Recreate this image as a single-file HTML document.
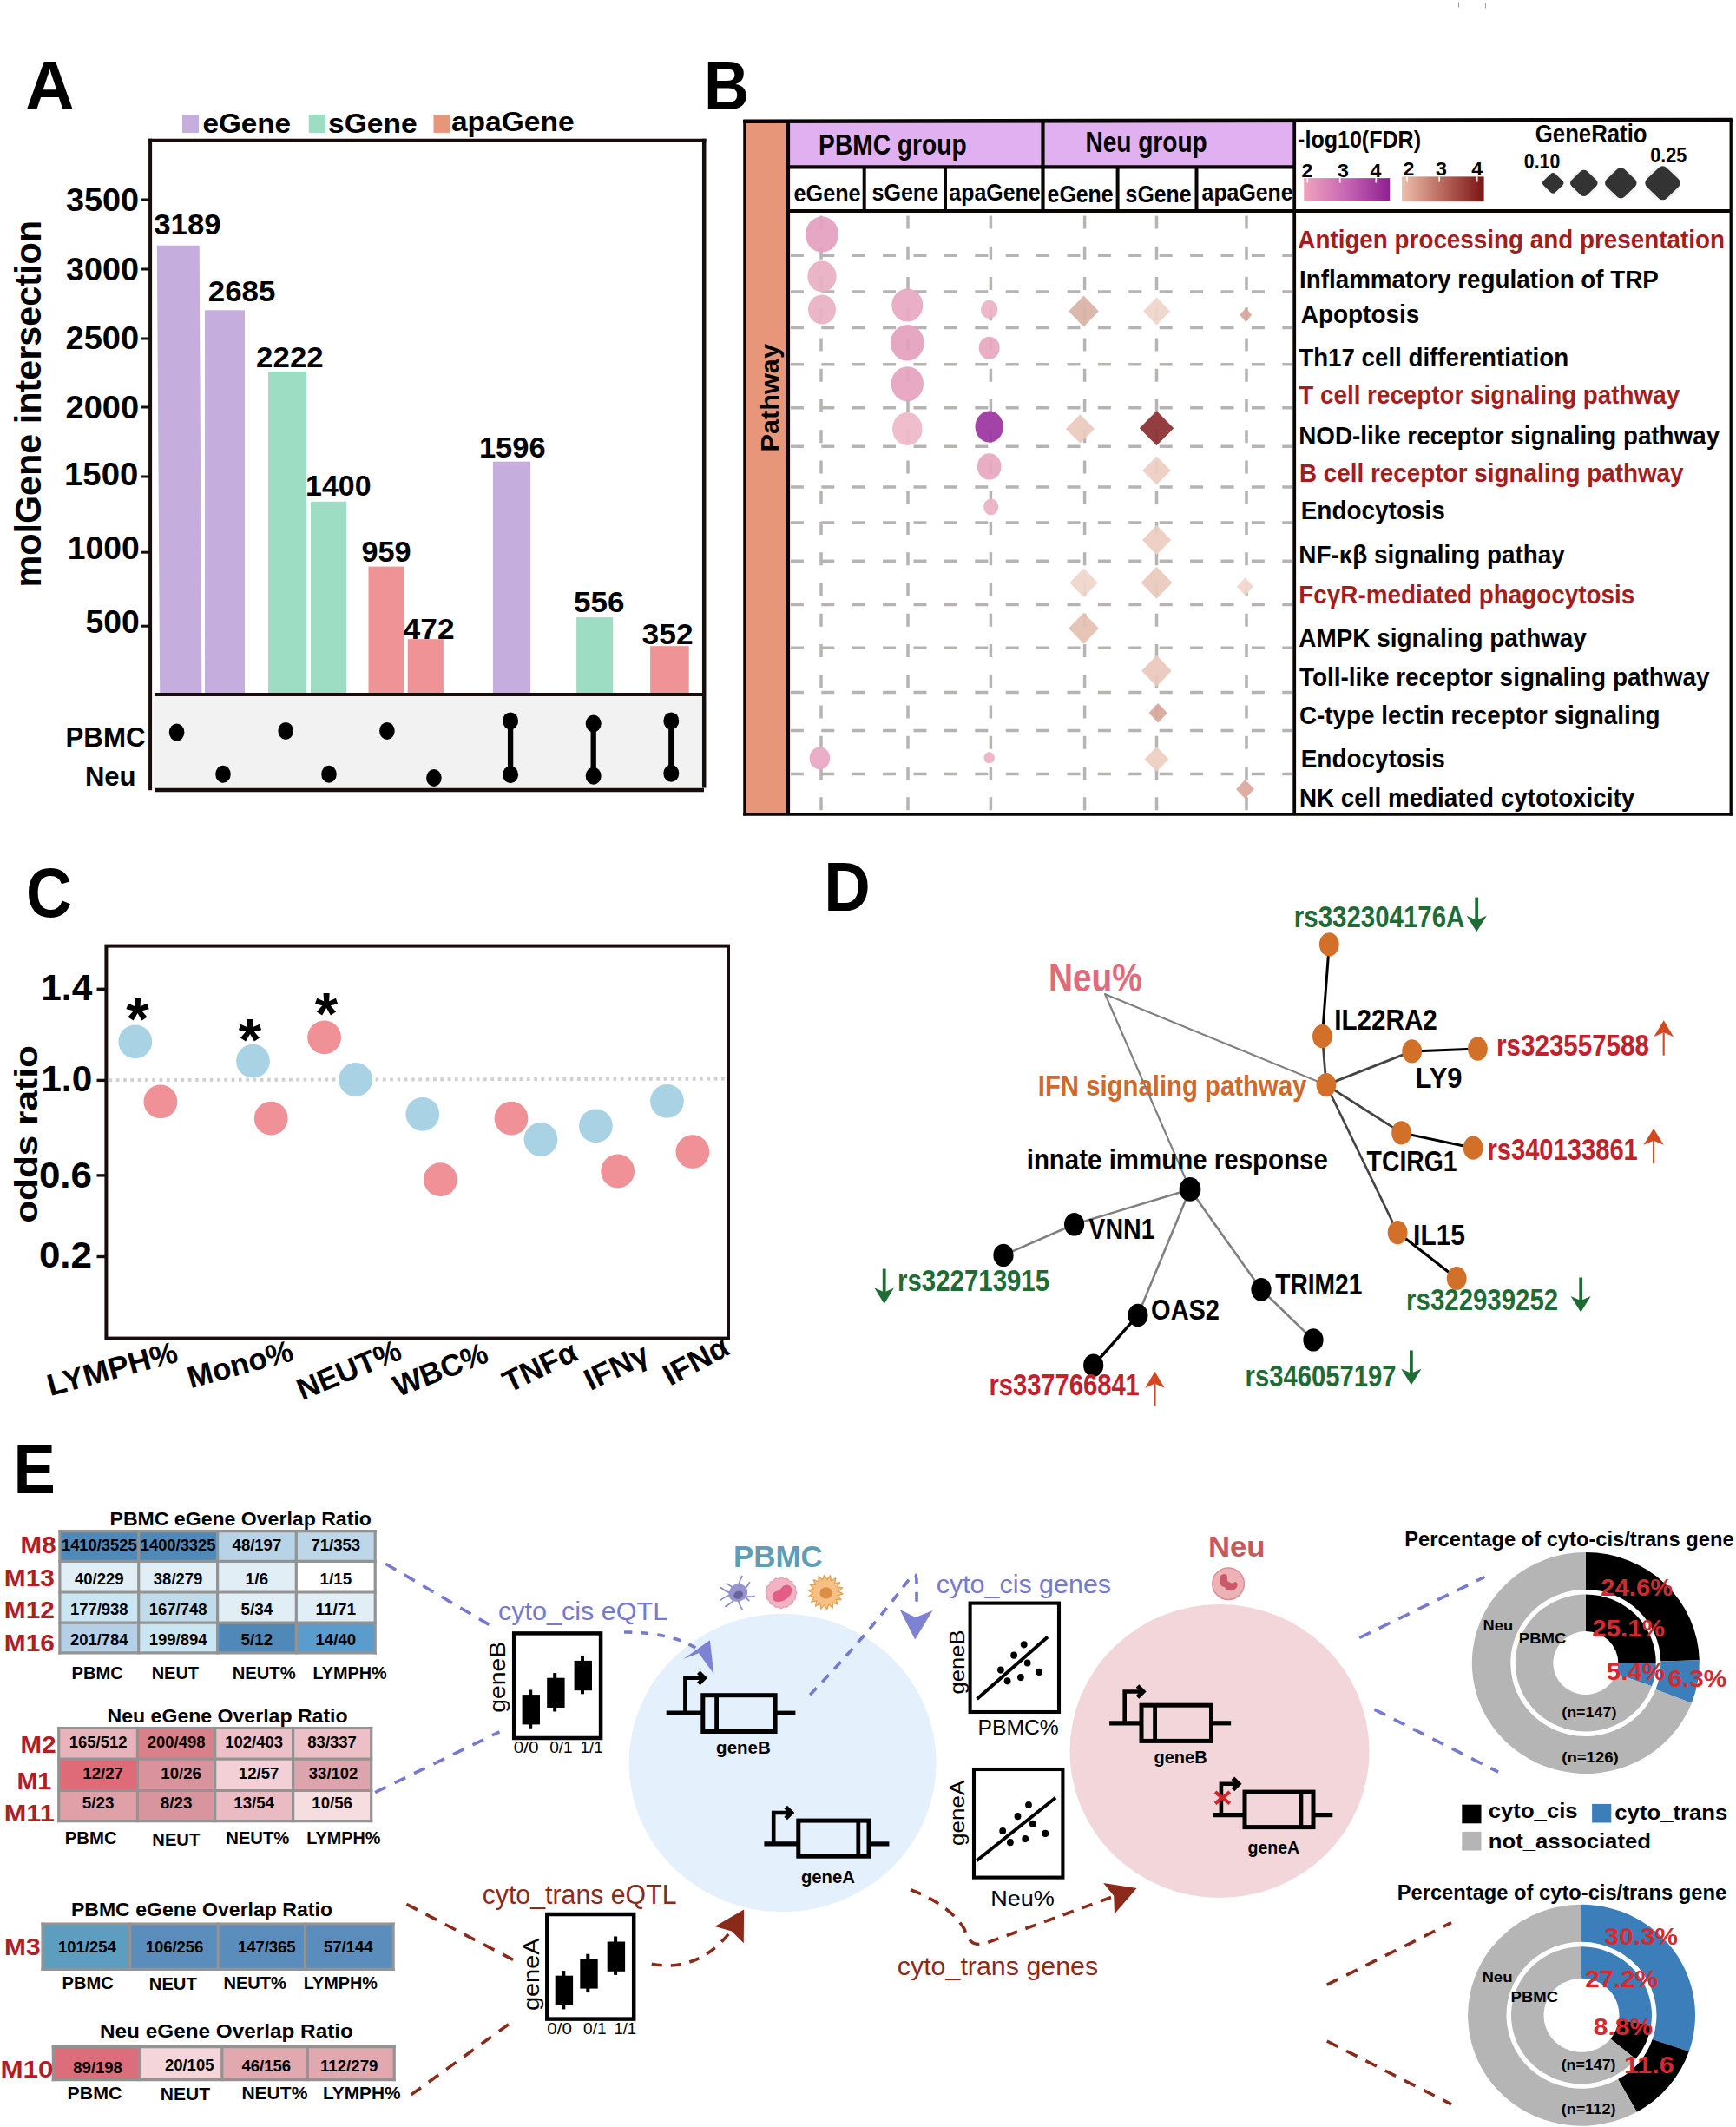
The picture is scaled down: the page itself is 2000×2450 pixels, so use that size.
<!DOCTYPE html>
<html lang="en"><head><meta charset="utf-8"><title>Figure</title>
<style>
html,body{margin:0;padding:0;background:#fff;}
svg{display:block;font-family:'Liberation Sans', 'DejaVu Sans', sans-serif;}
</style></head><body>
<svg width="2000" height="2450" viewBox="0 0 2000 2450">
<rect width="2000" height="2450" fill="#fff"/>
<g id="panelA">
<text x="29.0" y="125.5" font-size="79.5" font-weight="bold" textLength="56.8" lengthAdjust="spacingAndGlyphs">A</text>
<rect x="210.0" y="132.0" width="19.0" height="21.0" fill="#C5ADDE" />
<text x="233.4" y="153.0" font-size="32" font-weight="bold" textLength="101.7" lengthAdjust="spacingAndGlyphs">eGene</text>
<rect x="355.7" y="132.0" width="19.3" height="21.0" fill="#9DDDC3" />
<text x="378.0" y="153.0" font-size="32" font-weight="bold" textLength="102.7" lengthAdjust="spacingAndGlyphs">sGene</text>
<rect x="499.5" y="132.4" width="19.0" height="20.5" fill="#E8967A" />
<text x="519.9" y="151.3" font-size="32" font-weight="bold" textLength="141.7" lengthAdjust="spacingAndGlyphs">apaGene</text>
<rect x="176.7" y="801.0" width="634.0" height="108.0" fill="#F2F2F2" />
<path d="M180.8 282.7H229.7L232.4 799H184.2Z" fill="#C5ADDE"/>
<rect x="236.0" y="357.3" width="46.0" height="441.7" fill="#C5ADDE" />
<rect x="309.0" y="428.0" width="44.0" height="371.0" fill="#9DDDC3" />
<rect x="358.0" y="577.8" width="41.0" height="221.2" fill="#9DDDC3" />
<rect x="424.5" y="652.6" width="40.9" height="146.4" fill="#EF9397" />
<rect x="469.7" y="736.2" width="41.2" height="62.8" fill="#EF9397" />
<rect x="567.9" y="531.7" width="43.2" height="267.3" fill="#C5ADDE" />
<rect x="664.1" y="711.1" width="42.1" height="87.9" fill="#9DDDC3" />
<rect x="749.1" y="744.2" width="44.6" height="54.8" fill="#EF9397" />
<line x1="173.1" y1="159.7" x2="173.1" y2="910.2" stroke="#170d0d" stroke-width="4" />
<line x1="171.1" y1="161.9" x2="813.5" y2="161.9" stroke="#170d0d" stroke-width="4.3" />
<line x1="811.2" y1="159.7" x2="811.2" y2="907.5" stroke="#170d0d" stroke-width="4.5" />
<line x1="178.2" y1="800.0" x2="811.0" y2="800.0" stroke="#170d0d" stroke-width="4.2" />
<line x1="178.2" y1="910.0" x2="811.0" y2="910.0" stroke="#170d0d" stroke-width="4.6" />
<line x1="162.5" y1="230.0" x2="172.0" y2="230.0" stroke="#170d0d" stroke-width="3" />
<line x1="162.5" y1="310.0" x2="172.0" y2="310.0" stroke="#170d0d" stroke-width="3" />
<line x1="162.5" y1="390.0" x2="172.0" y2="390.0" stroke="#170d0d" stroke-width="3" />
<line x1="162.5" y1="469.0" x2="172.0" y2="469.0" stroke="#170d0d" stroke-width="3" />
<line x1="162.5" y1="549.0" x2="172.0" y2="549.0" stroke="#170d0d" stroke-width="3" />
<line x1="162.5" y1="636.2" x2="172.0" y2="636.2" stroke="#170d0d" stroke-width="3" />
<line x1="162.5" y1="721.2" x2="172.0" y2="721.2" stroke="#170d0d" stroke-width="3" />
<text x="76.0" y="242.7" font-size="36.5" font-weight="bold" textLength="84.1" lengthAdjust="spacingAndGlyphs">3500</text>
<text x="76.0" y="322.5" font-size="36.5" font-weight="bold" textLength="84.1" lengthAdjust="spacingAndGlyphs">3000</text>
<text x="75.5" y="402.3" font-size="36.5" font-weight="bold" textLength="84.6" lengthAdjust="spacingAndGlyphs">2500</text>
<text x="75.5" y="481.5" font-size="36.5" font-weight="bold" textLength="84.6" lengthAdjust="spacingAndGlyphs">2000</text>
<text x="74.0" y="559.3" font-size="36.5" font-weight="bold" textLength="85.3" lengthAdjust="spacingAndGlyphs">1500</text>
<text x="77.7" y="644.3" font-size="36.5" font-weight="bold" textLength="83.0" lengthAdjust="spacingAndGlyphs">1000</text>
<text x="98.5" y="729.3" font-size="36.5" font-weight="bold" textLength="62.2" lengthAdjust="spacingAndGlyphs">500</text>
<text x="177.3" y="270.3" font-size="33" font-weight="bold" textLength="77.3" lengthAdjust="spacingAndGlyphs">3189</text>
<text x="239.8" y="346.7" font-size="33" font-weight="bold" textLength="77.6" lengthAdjust="spacingAndGlyphs">2685</text>
<text x="295.1" y="423.0" font-size="33" font-weight="bold" textLength="77.6" lengthAdjust="spacingAndGlyphs">2222</text>
<text x="352.1" y="571.4" font-size="33" font-weight="bold" textLength="75.4" lengthAdjust="spacingAndGlyphs">1400</text>
<text x="416.4" y="646.9" font-size="33" font-weight="bold" textLength="57.2" lengthAdjust="spacingAndGlyphs">959</text>
<text x="464.6" y="736.2" font-size="33" font-weight="bold" textLength="59.0" lengthAdjust="spacingAndGlyphs">472</text>
<text x="551.9" y="527.0" font-size="33" font-weight="bold" textLength="76.8" lengthAdjust="spacingAndGlyphs">1596</text>
<text x="661.1" y="705.0" font-size="33" font-weight="bold" textLength="58.4" lengthAdjust="spacingAndGlyphs">556</text>
<text x="739.6" y="742.0" font-size="33" font-weight="bold" textLength="59.0" lengthAdjust="spacingAndGlyphs">352</text>
<text x="47.5" y="676.6" font-size="43" font-weight="bold" textLength="422.7" lengthAdjust="spacingAndGlyphs" transform="rotate(-90 47.5 676.6)">molGene intersection</text>
<text x="75.5" y="860.0" font-size="31" font-weight="bold" textLength="92.1" lengthAdjust="spacingAndGlyphs">PBMC</text>
<text x="97.9" y="904.7" font-size="31" font-weight="bold" textLength="58.7" lengthAdjust="spacingAndGlyphs">Neu</text>
<ellipse cx="203.6" cy="843.6" rx="8.8" ry="10.0" fill="#000" />
<ellipse cx="257.0" cy="891.7" rx="8.8" ry="10.0" fill="#000" />
<ellipse cx="329.2" cy="841.9" rx="8.8" ry="10.0" fill="#000" />
<ellipse cx="379.0" cy="891.7" rx="8.8" ry="10.0" fill="#000" />
<ellipse cx="445.9" cy="841.9" rx="8.8" ry="10.0" fill="#000" />
<ellipse cx="499.9" cy="896.0" rx="8.8" ry="10.0" fill="#000" />
<line x1="588.1" y1="830.4" x2="588.1" y2="892.3" stroke="#000" stroke-width="6.3" />
<ellipse cx="588.1" cy="830.4" rx="9.0" ry="10.0" fill="#000" />
<ellipse cx="588.1" cy="892.3" rx="9.0" ry="10.0" fill="#000" />
<line x1="683.7" y1="833.5" x2="683.7" y2="893.7" stroke="#000" stroke-width="6.3" />
<ellipse cx="683.7" cy="833.5" rx="9.0" ry="10.0" fill="#000" />
<ellipse cx="683.7" cy="893.7" rx="9.0" ry="10.0" fill="#000" />
<line x1="773.3" y1="830.4" x2="773.3" y2="890.8" stroke="#000" stroke-width="6.3" />
<ellipse cx="773.3" cy="830.4" rx="9.0" ry="10.0" fill="#000" />
<ellipse cx="773.3" cy="890.8" rx="9.0" ry="10.0" fill="#000" />
</g>
<g id="panelB">
<text x="811.0" y="126.2" font-size="79.5" font-weight="bold" textLength="51.9" lengthAdjust="spacingAndGlyphs">B</text>
<defs>
<linearGradient id="gp" x1="0" x2="1" y1="0" y2="0"><stop offset="0" stop-color="#EFA3BC"/><stop offset="0.5" stop-color="#C765B4"/><stop offset="1" stop-color="#8E2091"/></linearGradient>
<linearGradient id="gr" x1="0" x2="1" y1="0" y2="0"><stop offset="0" stop-color="#EDBFAC"/><stop offset="0.5" stop-color="#B8675C"/><stop offset="1" stop-color="#7A1414"/></linearGradient>
</defs>
<rect x="858.5" y="140.0" width="48.0" height="798.0" fill="#E8967A" />
<rect x="909.0" y="140.0" width="581.0" height="51.0" fill="#E1B0F0" />
<line x1="946.0" y1="248.6" x2="946.0" y2="937.0" stroke="#B7B3B3" stroke-width="3.5" stroke-dasharray="15 20.25"/>
<line x1="1046.0" y1="248.6" x2="1046.0" y2="937.0" stroke="#B7B3B3" stroke-width="3.5" stroke-dasharray="15 20.25"/>
<line x1="1141.4" y1="248.6" x2="1141.4" y2="937.0" stroke="#B7B3B3" stroke-width="3.5" stroke-dasharray="15 20.25"/>
<line x1="1249.6" y1="248.6" x2="1249.6" y2="937.0" stroke="#B7B3B3" stroke-width="3.5" stroke-dasharray="15 20.25"/>
<line x1="1332.5" y1="248.6" x2="1332.5" y2="937.0" stroke="#B7B3B3" stroke-width="3.5" stroke-dasharray="15 20.25"/>
<line x1="1436.0" y1="248.6" x2="1436.0" y2="937.0" stroke="#B7B3B3" stroke-width="3.5" stroke-dasharray="15 20.25"/>
<line x1="910.9" y1="294.2" x2="1489.0" y2="294.2" stroke="#B7B3B3" stroke-width="3.5" stroke-dasharray="15 20.4"/>
<line x1="910.9" y1="336.0" x2="1489.0" y2="336.0" stroke="#B7B3B3" stroke-width="3.5" stroke-dasharray="15 20.4"/>
<line x1="910.9" y1="377.5" x2="1489.0" y2="377.5" stroke="#B7B3B3" stroke-width="3.5" stroke-dasharray="15 20.4"/>
<line x1="910.9" y1="419.7" x2="1489.0" y2="419.7" stroke="#B7B3B3" stroke-width="3.5" stroke-dasharray="15 20.4"/>
<line x1="910.9" y1="469.8" x2="1489.0" y2="469.8" stroke="#B7B3B3" stroke-width="3.5" stroke-dasharray="15 20.4"/>
<line x1="910.9" y1="514.3" x2="1489.0" y2="514.3" stroke="#B7B3B3" stroke-width="3.5" stroke-dasharray="15 20.4"/>
<line x1="910.9" y1="561.0" x2="1489.0" y2="561.0" stroke="#B7B3B3" stroke-width="3.5" stroke-dasharray="15 20.4"/>
<line x1="910.9" y1="602.0" x2="1489.0" y2="602.0" stroke="#B7B3B3" stroke-width="3.5" stroke-dasharray="15 20.4"/>
<line x1="910.9" y1="646.3" x2="1489.0" y2="646.3" stroke="#B7B3B3" stroke-width="3.5" stroke-dasharray="15 20.4"/>
<line x1="910.9" y1="696.4" x2="1489.0" y2="696.4" stroke="#B7B3B3" stroke-width="3.5" stroke-dasharray="15 20.4"/>
<line x1="910.9" y1="746.2" x2="1489.0" y2="746.2" stroke="#B7B3B3" stroke-width="3.5" stroke-dasharray="15 20.4"/>
<line x1="910.9" y1="797.4" x2="1489.0" y2="797.4" stroke="#B7B3B3" stroke-width="3.5" stroke-dasharray="15 20.4"/>
<line x1="910.9" y1="841.6" x2="1489.0" y2="841.6" stroke="#B7B3B3" stroke-width="3.5" stroke-dasharray="15 20.4"/>
<line x1="910.9" y1="891.4" x2="1489.0" y2="891.4" stroke="#B7B3B3" stroke-width="3.5" stroke-dasharray="15 20.4"/>
<ellipse cx="947.0" cy="270.0" rx="19.0" ry="20.7" fill="#E3A0BF" fill-opacity="0.93"/>
<ellipse cx="947.0" cy="318.4" rx="16.6" ry="18.0" fill="#EAAFC4" fill-opacity="0.93"/>
<ellipse cx="947.0" cy="356.5" rx="16.0" ry="17.0" fill="#EBB0C5" fill-opacity="0.93"/>
<ellipse cx="1045.3" cy="351.6" rx="18.0" ry="19.0" fill="#E8A8C2" fill-opacity="0.93"/>
<ellipse cx="1139.7" cy="356.5" rx="9.7" ry="10.7" fill="#EDB2C6" fill-opacity="0.93"/>
<ellipse cx="1045.3" cy="394.8" rx="19.4" ry="20.7" fill="#E4A0BE" fill-opacity="0.93"/>
<ellipse cx="1139.7" cy="400.7" rx="12.0" ry="13.0" fill="#E8A8C0" fill-opacity="0.93"/>
<ellipse cx="1045.3" cy="442.2" rx="18.7" ry="20.0" fill="#E5A3BF" fill-opacity="0.93"/>
<ellipse cx="1045.3" cy="493.9" rx="17.3" ry="19.0" fill="#EFB8C8" fill-opacity="0.93"/>
<ellipse cx="1139.7" cy="491.5" rx="16.2" ry="18.0" fill="#9C35A0" fill-opacity="0.93"/>
<ellipse cx="1139.7" cy="537.4" rx="13.8" ry="15.2" fill="#E8A8C0" fill-opacity="0.93"/>
<ellipse cx="1141.7" cy="583.8" rx="8.6" ry="9.3" fill="#EDB0C5" fill-opacity="0.93"/>
<ellipse cx="944.4" cy="873.4" rx="11.8" ry="12.8" fill="#EAA8C4" fill-opacity="0.93"/>
<ellipse cx="1139.7" cy="872.7" rx="6.2" ry="6.4" fill="#EDB0C5" fill-opacity="0.93"/>
<path d="M1248.5 340.5L1265.8 358.5L1248.5 376.5L1231.2 358.5Z" fill="#D9B2A6" fill-opacity="0.93"/>
<path d="M1332.5 342.5L1348.0 358.5L1332.5 374.5L1317.0 358.5Z" fill="#F0D5CB" fill-opacity="0.93"/>
<path d="M1435.3 354.7L1442.3 362.7L1435.3 370.7L1428.3 362.7Z" fill="#D9A79C" fill-opacity="0.93"/>
<path d="M1244.4 477.3L1261.0 493.9L1244.4 510.5L1227.8 493.9Z" fill="#EBC9BC" fill-opacity="0.93"/>
<path d="M1332.5 473.2L1352.2 493.2L1332.5 513.2L1312.8 493.2Z" fill="#8B2E33" fill-opacity="0.93"/>
<path d="M1332.5 525.4L1348.7 542.0L1332.5 558.6L1316.3 542.0Z" fill="#EDCFC3" fill-opacity="0.93"/>
<path d="M1332.5 605.1L1349.1 622.1L1332.5 639.1L1315.9 622.1Z" fill="#EDCDC0" fill-opacity="0.93"/>
<path d="M1248.5 654.4L1264.7 671.2L1248.5 688.0L1232.3 671.2Z" fill="#F0D5CA" fill-opacity="0.93"/>
<path d="M1332.5 652.7L1350.5 671.2L1332.5 689.7L1314.5 671.2Z" fill="#EBC9BC" fill-opacity="0.93"/>
<path d="M1434.5 665.3L1444.2 675.7L1434.5 686.1L1424.8 675.7Z" fill="#F2D6CB" fill-opacity="0.93"/>
<path d="M1248.5 705.7L1265.8 723.7L1248.5 741.7L1231.2 723.7Z" fill="#E5BFB3" fill-opacity="0.93"/>
<path d="M1332.5 754.8L1349.8 772.8L1332.5 790.8L1315.2 772.8Z" fill="#EBC8BB" fill-opacity="0.93"/>
<path d="M1334.2 810.0L1344.9 821.2L1334.2 832.4L1323.5 821.2Z" fill="#D9A79C" fill-opacity="0.93"/>
<path d="M1332.5 860.0L1346.3 874.4L1332.5 888.8L1318.7 874.4Z" fill="#EECFC2" fill-opacity="0.93"/>
<path d="M1434.5 898.0L1444.9 909.0L1434.5 920.0L1424.1 909.0Z" fill="#DBA89C" fill-opacity="0.93"/>
<line x1="856.2" y1="139.7" x2="1995.8" y2="138.0" stroke="#0a0505" stroke-width="4.6" />
<line x1="857.8" y1="138.0" x2="857.8" y2="939.6" stroke="#0a0505" stroke-width="3.1" />
<line x1="907.9" y1="140.0" x2="907.9" y2="939.0" stroke="#0a0505" stroke-width="4.4" />
<line x1="856.2" y1="938.1" x2="1995.8" y2="938.1" stroke="#0a0505" stroke-width="3.2" />
<line x1="1994.2" y1="137.0" x2="1994.2" y2="939.6" stroke="#0a0505" stroke-width="3.3" />
<line x1="1491.2" y1="138.0" x2="1491.2" y2="939.0" stroke="#0a0505" stroke-width="3.8" />
<line x1="908.0" y1="192.4" x2="1491.0" y2="192.4" stroke="#0a0505" stroke-width="4.4" />
<line x1="908.0" y1="243.1" x2="1995.0" y2="243.1" stroke="#0a0505" stroke-width="4" />
<line x1="1201.5" y1="139.0" x2="1201.5" y2="243.0" stroke="#0a0505" stroke-width="4.2" />
<line x1="995.7" y1="191.0" x2="995.7" y2="243.0" stroke="#0a0505" stroke-width="4" />
<line x1="1089.0" y1="191.0" x2="1089.0" y2="243.0" stroke="#0a0505" stroke-width="4" />
<line x1="1287.6" y1="191.0" x2="1287.6" y2="243.0" stroke="#0a0505" stroke-width="4" />
<line x1="1378.5" y1="191.0" x2="1378.5" y2="243.0" stroke="#0a0505" stroke-width="4" />
<text x="896.5" y="520.5" font-size="30" font-weight="bold" textLength="124.5" lengthAdjust="spacingAndGlyphs" transform="rotate(-90 896.5 520.5)">Pathway</text>
<text x="943.1" y="177.5" font-size="32.4" font-weight="bold" textLength="170.5" lengthAdjust="spacingAndGlyphs">PBMC group</text>
<text x="1250.4" y="175.0" font-size="32.4" font-weight="bold" textLength="140.3" lengthAdjust="spacingAndGlyphs">Neu group</text>
<text x="914.6" y="231.6" font-size="27.5" font-weight="bold" textLength="77.0" lengthAdjust="spacingAndGlyphs">eGene</text>
<text x="1004.5" y="230.6" font-size="27.5" font-weight="bold" textLength="76.6" lengthAdjust="spacingAndGlyphs">sGene</text>
<text x="1093.3" y="230.6" font-size="27.5" font-weight="bold" textLength="105.3" lengthAdjust="spacingAndGlyphs">apaGene</text>
<text x="1206.6" y="233.0" font-size="27.5" font-weight="bold" textLength="76.0" lengthAdjust="spacingAndGlyphs">eGene</text>
<text x="1296.6" y="233.0" font-size="27.5" font-weight="bold" textLength="75.9" lengthAdjust="spacingAndGlyphs">sGene</text>
<text x="1384.6" y="230.8" font-size="27.5" font-weight="bold" textLength="104.9" lengthAdjust="spacingAndGlyphs">apaGene</text>
<text x="1495.1" y="169.7" font-size="28.5" font-weight="bold" textLength="141.9" lengthAdjust="spacingAndGlyphs">-log10(FDR)</text>
<text x="1768.8" y="163.8" font-size="29" font-weight="bold" textLength="128.7" lengthAdjust="spacingAndGlyphs">GeneRatio</text>
<rect x="1502.2" y="205.1" width="99.0" height="26.6" fill="url(#gp)" />
<rect x="1615.0" y="203.4" width="94.6" height="28.8" fill="url(#gr)" />
<line x1="1506.3" y1="205.1" x2="1506.3" y2="210.5" stroke="#fff" stroke-width="1.7" />
<line x1="1543.7" y1="205.1" x2="1543.7" y2="210.5" stroke="#fff" stroke-width="1.7" />
<line x1="1585.3" y1="205.1" x2="1585.3" y2="210.5" stroke="#fff" stroke-width="1.7" />
<line x1="1621.0" y1="203.4" x2="1621.0" y2="209.5" stroke="#fff" stroke-width="1.7" />
<line x1="1658.2" y1="203.4" x2="1658.2" y2="209.5" stroke="#fff" stroke-width="1.7" />
<line x1="1701.7" y1="203.4" x2="1701.7" y2="209.5" stroke="#fff" stroke-width="1.7" />
<text x="1506.0" y="203.6" font-size="22.8" font-weight="bold" textLength="12.9" lengthAdjust="spacingAndGlyphs" text-anchor="middle">2</text>
<text x="1547.4" y="203.6" font-size="22.8" font-weight="bold" textLength="12.9" lengthAdjust="spacingAndGlyphs" text-anchor="middle">3</text>
<text x="1585.0" y="203.6" font-size="22.8" font-weight="bold" textLength="12.9" lengthAdjust="spacingAndGlyphs" text-anchor="middle">4</text>
<text x="1622.9" y="201.6" font-size="22.8" font-weight="bold" textLength="12.9" lengthAdjust="spacingAndGlyphs" text-anchor="middle">2</text>
<text x="1660.4" y="201.6" font-size="22.8" font-weight="bold" textLength="12.9" lengthAdjust="spacingAndGlyphs" text-anchor="middle">3</text>
<text x="1701.7" y="201.6" font-size="22.8" font-weight="bold" textLength="12.9" lengthAdjust="spacingAndGlyphs" text-anchor="middle">4</text>
<text x="1755.8" y="193.6" font-size="23.5" font-weight="bold" textLength="41.5" lengthAdjust="spacingAndGlyphs">0.10</text>
<text x="1901.3" y="187.2" font-size="23.5" font-weight="bold" textLength="42.0" lengthAdjust="spacingAndGlyphs">0.25</text>
<ellipse cx="1789.2" cy="210.8" rx="11.6" ry="11.4" fill="#F0F0F0" />
<rect x="1779.5" y="201.1" width="19.4" height="19.4" rx="3.9" fill="#333" transform="translate(1789.2 210.8) scale(1 0.965) rotate(45) translate(-1789.2 -210.8)"/>
<ellipse cx="1824.8" cy="210.8" rx="15.1" ry="14.8" fill="#F0F0F0" />
<rect x="1812.2" y="198.2" width="25.3" height="25.3" rx="5.1" fill="#333" transform="translate(1824.8 210.8) scale(1 0.965) rotate(45) translate(-1824.8 -210.8)"/>
<ellipse cx="1867.3" cy="210.8" rx="17.5" ry="17.1" fill="#F0F0F0" />
<rect x="1852.7" y="196.2" width="29.2" height="29.2" rx="5.8" fill="#333" transform="translate(1867.3 210.8) scale(1 0.965) rotate(45) translate(-1867.3 -210.8)"/>
<ellipse cx="1915.5" cy="210.8" rx="19.4" ry="19.0" fill="#F0F0F0" />
<rect x="1899.3" y="194.6" width="32.4" height="32.4" rx="6.5" fill="#333" transform="translate(1915.5 210.8) scale(1 0.965) rotate(45) translate(-1915.5 -210.8)"/>
<text x="1495.3" y="286.0" font-size="30" font-weight="bold" fill="#A51C1C" textLength="491.6" lengthAdjust="spacingAndGlyphs">Antigen processing and presentation</text>
<text x="1497.0" y="332.3" font-size="30" font-weight="bold" textLength="413.9" lengthAdjust="spacingAndGlyphs">Inflammatory regulation of TRP</text>
<text x="1498.7" y="372.4" font-size="30" font-weight="bold" textLength="136.7" lengthAdjust="spacingAndGlyphs">Apoptosis</text>
<text x="1496.3" y="422.1" font-size="30" font-weight="bold" textLength="310.8" lengthAdjust="spacingAndGlyphs">Th17 cell differentiation</text>
<text x="1496.3" y="464.6" font-size="30" font-weight="bold" fill="#A51C1C" textLength="438.8" lengthAdjust="spacingAndGlyphs">T cell receptor signaling pathway</text>
<text x="1496.3" y="512.2" font-size="30" font-weight="bold" textLength="484.8" lengthAdjust="spacingAndGlyphs">NOD-like receptor signaling pathway</text>
<text x="1497.0" y="555.4" font-size="30" font-weight="bold" fill="#A51C1C" textLength="442.6" lengthAdjust="spacingAndGlyphs">B cell receptor signaling pathway</text>
<text x="1498.7" y="597.9" font-size="30" font-weight="bold" textLength="166.1" lengthAdjust="spacingAndGlyphs">Endocytosis</text>
<text x="1496.3" y="648.7" font-size="30" font-weight="bold" textLength="306.4" lengthAdjust="spacingAndGlyphs">NF-κβ signaling pathay</text>
<text x="1496.3" y="694.7" font-size="30" font-weight="bold" fill="#A51C1C" textLength="386.9" lengthAdjust="spacingAndGlyphs">FcγR-mediated phagocytosis</text>
<text x="1496.3" y="744.5" font-size="30" font-weight="bold" textLength="331.6" lengthAdjust="spacingAndGlyphs">AMPK signaling pathway</text>
<text x="1497.0" y="790.4" font-size="30" font-weight="bold" textLength="472.6" lengthAdjust="spacingAndGlyphs">Toll-like receptor signaling pathway</text>
<text x="1497.0" y="833.6" font-size="30" font-weight="bold" textLength="415.6" lengthAdjust="spacingAndGlyphs">C-type lectin receptor signaling</text>
<text x="1498.7" y="883.8" font-size="30" font-weight="bold" textLength="166.1" lengthAdjust="spacingAndGlyphs">Endocytosis</text>
<text x="1497.0" y="928.7" font-size="30" font-weight="bold" textLength="386.2" lengthAdjust="spacingAndGlyphs">NK cell mediated cytotoxicity</text>
<line x1="1680.5" y1="2.5" x2="1680.5" y2="8.5" stroke="#999" stroke-width="1" />
<line x1="1711.4" y1="3.5" x2="1711.4" y2="9.5" stroke="#999" stroke-width="1" />
</g>
<g id="panelC">
<text x="30.0" y="1055.6" font-size="79" font-weight="bold" textLength="53.0" lengthAdjust="spacingAndGlyphs">C</text>
<line x1="125.5" y1="1244.1" x2="837.5" y2="1242.6" stroke="#D0D0D0" stroke-width="3.9" stroke-dasharray="3.7 4.6"/>
<ellipse cx="155.8" cy="1199.8" rx="19.4" ry="19.4" fill="#A9D3E5" />
<ellipse cx="184.9" cy="1268.9" rx="19.4" ry="19.4" fill="#EF9197" />
<ellipse cx="291.5" cy="1222.2" rx="19.4" ry="19.4" fill="#A9D3E5" />
<ellipse cx="312.2" cy="1288.2" rx="19.4" ry="19.4" fill="#EF9197" />
<ellipse cx="373.6" cy="1194.9" rx="19.4" ry="19.4" fill="#EF9197" />
<ellipse cx="409.6" cy="1243.5" rx="19.4" ry="19.4" fill="#A9D3E5" />
<ellipse cx="486.8" cy="1283.3" rx="19.4" ry="19.4" fill="#A9D3E5" />
<ellipse cx="507.4" cy="1358.7" rx="19.4" ry="19.4" fill="#EF9197" />
<ellipse cx="589.0" cy="1288.2" rx="19.4" ry="19.4" fill="#EF9197" />
<ellipse cx="623.0" cy="1312.5" rx="19.4" ry="19.4" fill="#A9D3E5" />
<ellipse cx="686.4" cy="1296.8" rx="19.4" ry="19.4" fill="#A9D3E5" />
<ellipse cx="711.7" cy="1349.0" rx="19.4" ry="19.4" fill="#EF9197" />
<ellipse cx="768.5" cy="1268.4" rx="19.4" ry="19.4" fill="#A9D3E5" />
<ellipse cx="797.9" cy="1326.7" rx="19.4" ry="19.4" fill="#EF9197" />
<rect x="122.4" y="1089.6" width="716.6" height="452" fill="none" stroke="#170d0d" stroke-width="4"/>
<line x1="111.5" y1="1139.3" x2="121.0" y2="1139.3" stroke="#170d0d" stroke-width="3.4" />
<line x1="111.5" y1="1244.4" x2="121.0" y2="1244.4" stroke="#170d0d" stroke-width="3.4" />
<line x1="111.5" y1="1353.9" x2="121.0" y2="1353.9" stroke="#170d0d" stroke-width="3.4" />
<line x1="111.5" y1="1447.5" x2="121.0" y2="1447.5" stroke="#170d0d" stroke-width="3.4" />
<text x="47.3" y="1152.2" font-size="42" font-weight="bold" textLength="58.9" lengthAdjust="spacingAndGlyphs">1.4</text>
<text x="47.3" y="1257.4" font-size="42" font-weight="bold" textLength="58.9" lengthAdjust="spacingAndGlyphs">1.0</text>
<text x="44.9" y="1367.7" font-size="42" font-weight="bold" textLength="61.1" lengthAdjust="spacingAndGlyphs">0.6</text>
<text x="44.9" y="1460.4" font-size="42" font-weight="bold" textLength="61.1" lengthAdjust="spacingAndGlyphs">0.2</text>
<text x="43.2" y="1408.8" font-size="36" font-weight="bold" textLength="204.6" lengthAdjust="spacingAndGlyphs" transform="rotate(-90 43.2 1408.8)">odds ratio</text>
<text x="158.4" y="1196.8" font-size="68" font-weight="bold" text-anchor="middle">*</text>
<text x="288.0" y="1221.2" font-size="68" font-weight="bold" text-anchor="middle">*</text>
<text x="375.9" y="1191.0" font-size="68" font-weight="bold" text-anchor="middle">*</text>
<text x="58.1" y="1608.0" font-size="35" font-weight="bold" textLength="154.0" lengthAdjust="spacingAndGlyphs" transform="rotate(-15 58.1 1608.0)">LYMPH%</text>
<text x="219.8" y="1599.3" font-size="35" font-weight="bold" textLength="124.5" lengthAdjust="spacingAndGlyphs" transform="rotate(-15.3 219.8 1599.3)">Mono%</text>
<text x="348.2" y="1613.2" font-size="35" font-weight="bold" textLength="126.5" lengthAdjust="spacingAndGlyphs" transform="rotate(-22.7 348.2 1613.2)">NEUT%</text>
<text x="458.7" y="1609.6" font-size="35" font-weight="bold" textLength="114.0" lengthAdjust="spacingAndGlyphs" transform="rotate(-21.4 458.7 1609.6)">WBC%</text>
<text x="586.4" y="1604.7" font-size="35" font-weight="bold" textLength="90.3" lengthAdjust="spacingAndGlyphs" transform="rotate(-25.8 586.4 1604.7)">TNFα</text>
<text x="680.2" y="1602.2" font-size="35" font-weight="bold" textLength="78.0" lengthAdjust="spacingAndGlyphs" transform="rotate(-26 680.2 1602.2)">IFNγ</text>
<text x="772.1" y="1597.1" font-size="35" font-weight="bold" textLength="80.0" lengthAdjust="spacingAndGlyphs" transform="rotate(-28.5 772.1 1597.1)">IFNα</text>
</g>
<g id="panelD">
<text x="949.2" y="1049.0" font-size="79.5" font-weight="bold" textLength="53.5" lengthAdjust="spacingAndGlyphs">D</text>
<line x1="1273.2" y1="1145.2" x2="1527.9" y2="1249.6" stroke="#808080" stroke-width="2.2" stroke-linecap="round"/>
<line x1="1273.2" y1="1145.2" x2="1371.0" y2="1369.9" stroke="#808080" stroke-width="2.2" stroke-linecap="round"/>
<line x1="1371.0" y1="1369.9" x2="1237.6" y2="1410.3" stroke="#808080" stroke-width="2.6" stroke-linecap="round"/>
<line x1="1237.6" y1="1410.3" x2="1156.0" y2="1445.9" stroke="#808080" stroke-width="2.6" stroke-linecap="round"/>
<line x1="1371.0" y1="1369.9" x2="1310.9" y2="1515.0" stroke="#808080" stroke-width="2.6" stroke-linecap="round"/>
<line x1="1371.0" y1="1369.9" x2="1453.0" y2="1485.3" stroke="#808080" stroke-width="2.6" stroke-linecap="round"/>
<line x1="1453.0" y1="1485.3" x2="1513.0" y2="1543.4" stroke="#808080" stroke-width="2.6" stroke-linecap="round"/>
<line x1="1310.9" y1="1515.0" x2="1259.7" y2="1572.7" stroke="#000" stroke-width="3.4" stroke-linecap="round"/>
<line x1="1523.4" y1="1193.6" x2="1527.9" y2="1249.6" stroke="#444" stroke-width="2.8" stroke-linecap="round"/>
<line x1="1527.9" y1="1249.6" x2="1626.7" y2="1210.9" stroke="#444" stroke-width="2.8" stroke-linecap="round"/>
<line x1="1527.9" y1="1249.6" x2="1614.6" y2="1304.9" stroke="#444" stroke-width="2.8" stroke-linecap="round"/>
<line x1="1527.9" y1="1249.6" x2="1610.1" y2="1419.6" stroke="#444" stroke-width="2.6" stroke-linecap="round"/>
<line x1="1531.3" y1="1087.8" x2="1523.4" y2="1193.6" stroke="#000" stroke-width="3" stroke-linecap="round"/>
<line x1="1626.7" y1="1210.9" x2="1702.4" y2="1208.1" stroke="#000" stroke-width="3" stroke-linecap="round"/>
<line x1="1614.6" y1="1304.9" x2="1697.2" y2="1322.2" stroke="#000" stroke-width="3" stroke-linecap="round"/>
<line x1="1610.1" y1="1419.6" x2="1678.2" y2="1472.5" stroke="#000" stroke-width="3.2" stroke-linecap="round"/>
<ellipse cx="1371.0" cy="1369.9" rx="12.4" ry="13.8" fill="#000" />
<ellipse cx="1237.6" cy="1410.3" rx="11.6" ry="13.2" fill="#000" />
<ellipse cx="1156.0" cy="1445.9" rx="11.6" ry="13.2" fill="#000" />
<ellipse cx="1310.9" cy="1515.0" rx="11.6" ry="13.2" fill="#000" />
<ellipse cx="1259.7" cy="1572.7" rx="11.6" ry="13.2" fill="#000" />
<ellipse cx="1453.0" cy="1485.3" rx="11.6" ry="13.2" fill="#000" />
<ellipse cx="1513.0" cy="1543.4" rx="11.6" ry="13.2" fill="#000" />
<ellipse cx="1527.9" cy="1249.6" rx="11.4" ry="13.6" fill="#D2702A" />
<ellipse cx="1531.3" cy="1087.8" rx="11.4" ry="13.6" fill="#D2702A" />
<ellipse cx="1523.4" cy="1193.6" rx="11.4" ry="13.6" fill="#D2702A" />
<ellipse cx="1626.7" cy="1210.9" rx="11.4" ry="13.6" fill="#D2702A" />
<ellipse cx="1702.4" cy="1208.1" rx="11.4" ry="13.6" fill="#D2702A" />
<ellipse cx="1614.6" cy="1304.9" rx="11.4" ry="13.6" fill="#D2702A" />
<ellipse cx="1697.2" cy="1322.2" rx="11.4" ry="13.6" fill="#D2702A" />
<ellipse cx="1610.1" cy="1419.6" rx="11.4" ry="13.6" fill="#D2702A" />
<ellipse cx="1678.2" cy="1472.5" rx="11.4" ry="13.6" fill="#D2702A" />
<text x="1208.0" y="1142.4" font-size="46" font-weight="bold" fill="#E06B7D" textLength="107.6" lengthAdjust="spacingAndGlyphs">Neu%</text>
<text x="1195.8" y="1261.7" font-size="34" font-weight="bold" fill="#CF6A2B" textLength="309.5" lengthAdjust="spacingAndGlyphs">IFN signaling pathway</text>
<text x="1182.7" y="1347.0" font-size="34" font-weight="bold" textLength="347.1" lengthAdjust="spacingAndGlyphs">innate immune response</text>
<text x="1254.3" y="1426.5" font-size="33.5" font-weight="bold" textLength="76.4" lengthAdjust="spacingAndGlyphs">VNN1</text>
<text x="1326.1" y="1519.9" font-size="33.5" font-weight="bold" textLength="78.9" lengthAdjust="spacingAndGlyphs">OAS2</text>
<text x="1469.2" y="1490.8" font-size="33.5" font-weight="bold" textLength="100.2" lengthAdjust="spacingAndGlyphs">TRIM21</text>
<text x="1537.2" y="1186.3" font-size="33.5" font-weight="bold" textLength="118.6" lengthAdjust="spacingAndGlyphs">IL22RA2</text>
<text x="1630.6" y="1253.0" font-size="33.5" font-weight="bold" textLength="53.9" lengthAdjust="spacingAndGlyphs">LY9</text>
<text x="1574.6" y="1349.1" font-size="33.5" font-weight="bold" textLength="104.0" lengthAdjust="spacingAndGlyphs">TCIRG1</text>
<text x="1628.1" y="1433.5" font-size="33.5" font-weight="bold" textLength="59.9" lengthAdjust="spacingAndGlyphs">IL15</text>
<text x="1034.0" y="1487.4" font-size="35.5" font-weight="bold" fill="#1F6B35" textLength="175.1" lengthAdjust="spacingAndGlyphs">rs322713915</text>
<text x="1139.4" y="1606.6" font-size="35.5" font-weight="bold" fill="#C2202B" textLength="173.4" lengthAdjust="spacingAndGlyphs">rs337766841</text>
<text x="1434.5" y="1597.0" font-size="35.5" font-weight="bold" fill="#1F6B35" textLength="174.1" lengthAdjust="spacingAndGlyphs">rs346057197</text>
<text x="1490.8" y="1068.1" font-size="35.5" font-weight="bold" fill="#1F6B35" textLength="196.6" lengthAdjust="spacingAndGlyphs">rs332304176A</text>
<text x="1724.1" y="1215.7" font-size="35.5" font-weight="bold" fill="#C2202B" textLength="175.8" lengthAdjust="spacingAndGlyphs">rs323557588</text>
<text x="1713.4" y="1336.0" font-size="35.5" font-weight="bold" fill="#C2202B" textLength="173.4" lengthAdjust="spacingAndGlyphs">rs340133861</text>
<text x="1620.1" y="1508.8" font-size="35.5" font-weight="bold" fill="#1F6B35" textLength="175.1" lengthAdjust="spacingAndGlyphs">rs322939252</text>
<line x1="1018.7" y1="1461.5" x2="1018.7" y2="1488.4" stroke="#1F6B35" stroke-width="3.8" />
<path d="M1007.4 1483.4L1018.7 1488.4L1029.9 1483.4L1018.7 1501.9Z" fill="#1F6B35"/>
<line x1="1701.2" y1="1033.6" x2="1701.2" y2="1059.8" stroke="#1F6B35" stroke-width="3.8" />
<path d="M1689.6 1054.8L1701.2 1059.8L1712.8 1054.8L1701.2 1073.3Z" fill="#1F6B35"/>
<line x1="1821.2" y1="1471.5" x2="1821.2" y2="1498.1" stroke="#1F6B35" stroke-width="3.8" />
<path d="M1809.6 1493.1L1821.2 1498.1L1832.7 1493.1L1821.2 1511.6Z" fill="#1F6B35"/>
<line x1="1625.9" y1="1555.5" x2="1625.9" y2="1581.7" stroke="#1F6B35" stroke-width="3.8" />
<path d="M1614.3 1576.7L1625.9 1581.7L1637.5 1576.7L1625.9 1595.2Z" fill="#1F6B35"/>
<line x1="1330.5" y1="1593.7" x2="1330.5" y2="1619.4" stroke="#D5481F" stroke-width="2.1" />
<path d="M1319.2 1598.7L1330.5 1593.7L1341.7 1598.7L1330.5 1579.7Z" fill="#D5481F"/>
<line x1="1916.7" y1="1189.3" x2="1916.7" y2="1215.7" stroke="#D5481F" stroke-width="2.1" />
<path d="M1905.3 1194.3L1916.7 1189.3L1928.1 1194.3L1916.7 1175.3Z" fill="#D5481F"/>
<line x1="1905.1" y1="1313.7" x2="1905.1" y2="1340.1" stroke="#D5481F" stroke-width="2.1" />
<path d="M1893.5 1318.7L1905.1 1313.7L1916.7 1318.7L1905.1 1299.7Z" fill="#D5481F"/>
</g>
<g id="panelE">
<text x="15.4" y="1720.3" font-size="79.5" font-weight="bold" textLength="48.3" lengthAdjust="spacingAndGlyphs">E</text>
<text x="126.5" y="1757.2" font-size="22.5" font-weight="bold" textLength="301.4" lengthAdjust="spacingAndGlyphs">PBMC eGene Overlap Ratio</text>
<rect x="68.9" y="1763.7" width="90.8" height="34.7" fill="#5088B8" />
<rect x="159.7" y="1763.7" width="90.9" height="34.7" fill="#5088B8" />
<rect x="250.6" y="1763.7" width="90.7" height="34.7" fill="#B8D3E8" />
<rect x="341.3" y="1763.7" width="90.9" height="34.7" fill="#BDD6E8" />
<rect x="68.9" y="1798.4" width="90.8" height="35.6" fill="#E2EEF5" />
<rect x="159.7" y="1798.4" width="90.9" height="35.6" fill="#E2EEF5" />
<rect x="250.6" y="1798.4" width="90.7" height="35.6" fill="#E2EEF5" />
<rect x="341.3" y="1798.4" width="90.9" height="35.6" fill="#FFFFFF" />
<rect x="68.9" y="1834.0" width="90.8" height="35.1" fill="#CBE6F3" />
<rect x="159.7" y="1834.0" width="90.9" height="35.1" fill="#C0DCEB" />
<rect x="250.6" y="1834.0" width="90.7" height="35.1" fill="#E2EEF5" />
<rect x="341.3" y="1834.0" width="90.9" height="35.1" fill="#E2EEF5" />
<rect x="68.9" y="1869.1" width="90.8" height="34.8" fill="#B5D0E6" />
<rect x="159.7" y="1869.1" width="90.9" height="34.8" fill="#CBE6F3" />
<rect x="250.6" y="1869.1" width="90.7" height="34.8" fill="#5088B8" />
<rect x="341.3" y="1869.1" width="90.9" height="34.8" fill="#5A9CCB" />
<line x1="68.9" y1="1762.1" x2="68.9" y2="1905.5" stroke="#939393" stroke-width="3.2" />
<line x1="159.7" y1="1762.1" x2="159.7" y2="1905.5" stroke="#939393" stroke-width="3.2" />
<line x1="250.6" y1="1762.1" x2="250.6" y2="1905.5" stroke="#939393" stroke-width="3.2" />
<line x1="341.3" y1="1762.1" x2="341.3" y2="1905.5" stroke="#939393" stroke-width="3.2" />
<line x1="432.2" y1="1762.1" x2="432.2" y2="1905.5" stroke="#939393" stroke-width="3.2" />
<line x1="67.3" y1="1763.7" x2="433.8" y2="1763.7" stroke="#939393" stroke-width="3.2" />
<line x1="67.3" y1="1798.4" x2="433.8" y2="1798.4" stroke="#939393" stroke-width="3.2" />
<line x1="67.3" y1="1834.0" x2="433.8" y2="1834.0" stroke="#939393" stroke-width="3.2" />
<line x1="67.3" y1="1869.1" x2="433.8" y2="1869.1" stroke="#939393" stroke-width="3.2" />
<line x1="67.3" y1="1903.9" x2="433.8" y2="1903.9" stroke="#939393" stroke-width="3.2" />
<text x="114.3" y="1785.7" font-size="18.6" font-weight="bold" textLength="86.6" lengthAdjust="spacingAndGlyphs" text-anchor="middle">1410/3525</text>
<text x="205.1" y="1785.7" font-size="18.6" font-weight="bold" textLength="86.6" lengthAdjust="spacingAndGlyphs" text-anchor="middle">1400/3325</text>
<text x="295.9" y="1785.7" font-size="18.6" font-weight="bold" textLength="56.6" lengthAdjust="spacingAndGlyphs" text-anchor="middle">48/197</text>
<text x="386.8" y="1785.7" font-size="18.6" font-weight="bold" textLength="56.6" lengthAdjust="spacingAndGlyphs" text-anchor="middle">71/353</text>
<text x="114.3" y="1824.6" font-size="18.6" font-weight="bold" textLength="56.6" lengthAdjust="spacingAndGlyphs" text-anchor="middle">40/229</text>
<text x="205.1" y="1824.6" font-size="18.6" font-weight="bold" textLength="56.6" lengthAdjust="spacingAndGlyphs" text-anchor="middle">38/279</text>
<text x="295.9" y="1824.6" font-size="18.6" font-weight="bold" textLength="26.6" lengthAdjust="spacingAndGlyphs" text-anchor="middle">1/6</text>
<text x="386.8" y="1824.6" font-size="18.6" font-weight="bold" textLength="36.6" lengthAdjust="spacingAndGlyphs" text-anchor="middle">1/15</text>
<text x="114.3" y="1860.0" font-size="18.6" font-weight="bold" textLength="66.6" lengthAdjust="spacingAndGlyphs" text-anchor="middle">177/938</text>
<text x="205.1" y="1860.0" font-size="18.6" font-weight="bold" textLength="66.6" lengthAdjust="spacingAndGlyphs" text-anchor="middle">167/748</text>
<text x="295.9" y="1860.0" font-size="18.6" font-weight="bold" textLength="36.6" lengthAdjust="spacingAndGlyphs" text-anchor="middle">5/34</text>
<text x="386.8" y="1860.0" font-size="18.6" font-weight="bold" textLength="46.6" lengthAdjust="spacingAndGlyphs" text-anchor="middle">11/71</text>
<text x="114.3" y="1894.6" font-size="18.6" font-weight="bold" textLength="66.6" lengthAdjust="spacingAndGlyphs" text-anchor="middle">201/784</text>
<text x="205.1" y="1894.6" font-size="18.6" font-weight="bold" textLength="66.6" lengthAdjust="spacingAndGlyphs" text-anchor="middle">199/894</text>
<text x="295.9" y="1894.6" font-size="18.6" font-weight="bold" textLength="36.6" lengthAdjust="spacingAndGlyphs" text-anchor="middle">5/12</text>
<text x="386.8" y="1894.6" font-size="18.6" font-weight="bold" textLength="46.6" lengthAdjust="spacingAndGlyphs" text-anchor="middle">14/40</text>
<text x="23.6" y="1789.2" font-size="28" font-weight="bold" fill="#B01E23" textLength="41.0" lengthAdjust="spacingAndGlyphs">M8</text>
<text x="4.8" y="1826.8" font-size="28" font-weight="bold" fill="#B01E23" textLength="58.0" lengthAdjust="spacingAndGlyphs">M13</text>
<text x="4.8" y="1864.3" font-size="28" font-weight="bold" fill="#B01E23" textLength="58.0" lengthAdjust="spacingAndGlyphs">M12</text>
<text x="4.8" y="1901.7" font-size="28" font-weight="bold" fill="#B01E23" textLength="58.0" lengthAdjust="spacingAndGlyphs">M16</text>
<text x="82.5" y="1933.5" font-size="19.5" font-weight="bold" textLength="59.3" lengthAdjust="spacingAndGlyphs">PBMC</text>
<text x="174.7" y="1934.3" font-size="19.5" font-weight="bold" textLength="54.4" lengthAdjust="spacingAndGlyphs">NEUT</text>
<text x="267.7" y="1933.5" font-size="19.5" font-weight="bold" textLength="72.9" lengthAdjust="spacingAndGlyphs">NEUT%</text>
<text x="360.5" y="1933.5" font-size="19.5" font-weight="bold" textLength="85.2" lengthAdjust="spacingAndGlyphs">LYMPH%</text>
<text x="123.6" y="1983.9" font-size="22.5" font-weight="bold" textLength="277.0" lengthAdjust="spacingAndGlyphs">Neu eGene Overlap Ratio</text>
<rect x="67.7" y="1990.5" width="90.7" height="35.7" fill="#E8B4BC" />
<rect x="158.4" y="1990.5" width="89.3" height="35.7" fill="#D9808A" />
<rect x="247.7" y="1990.5" width="89.9" height="35.7" fill="#EDC0C7" />
<rect x="337.6" y="1990.5" width="90.1" height="35.7" fill="#EDC0C7" />
<rect x="67.7" y="2026.2" width="90.7" height="36.3" fill="#DF6B78" />
<rect x="158.4" y="2026.2" width="89.3" height="36.3" fill="#D9939C" />
<rect x="247.7" y="2026.2" width="89.9" height="36.3" fill="#F3D0D5" />
<rect x="337.6" y="2026.2" width="90.1" height="36.3" fill="#DCA5AD" />
<rect x="67.7" y="2062.5" width="90.7" height="35.1" fill="#DFA0A8" />
<rect x="158.4" y="2062.5" width="89.3" height="35.1" fill="#D9959E" />
<rect x="247.7" y="2062.5" width="89.9" height="35.1" fill="#EBBBC3" />
<rect x="337.6" y="2062.5" width="90.1" height="35.1" fill="#F5DDE0" />
<line x1="67.7" y1="1988.9" x2="67.7" y2="2099.2" stroke="#939393" stroke-width="3.2" />
<line x1="158.4" y1="1988.9" x2="158.4" y2="2099.2" stroke="#939393" stroke-width="3.2" />
<line x1="247.7" y1="1988.9" x2="247.7" y2="2099.2" stroke="#939393" stroke-width="3.2" />
<line x1="337.6" y1="1988.9" x2="337.6" y2="2099.2" stroke="#939393" stroke-width="3.2" />
<line x1="427.7" y1="1988.9" x2="427.7" y2="2099.2" stroke="#939393" stroke-width="3.2" />
<line x1="66.1" y1="1990.5" x2="429.3" y2="1990.5" stroke="#939393" stroke-width="3.2" />
<line x1="66.1" y1="2026.2" x2="429.3" y2="2026.2" stroke="#939393" stroke-width="3.2" />
<line x1="66.1" y1="2062.5" x2="429.3" y2="2062.5" stroke="#939393" stroke-width="3.2" />
<line x1="66.1" y1="2097.6" x2="429.3" y2="2097.6" stroke="#939393" stroke-width="3.2" />
<text x="113.1" y="2012.7" font-size="18.6" font-weight="bold" textLength="66.6" lengthAdjust="spacingAndGlyphs" text-anchor="middle">165/512</text>
<text x="203.1" y="2012.7" font-size="18.6" font-weight="bold" textLength="66.6" lengthAdjust="spacingAndGlyphs" text-anchor="middle">200/498</text>
<text x="292.6" y="2012.7" font-size="18.6" font-weight="bold" textLength="66.6" lengthAdjust="spacingAndGlyphs" text-anchor="middle">102/403</text>
<text x="382.6" y="2012.7" font-size="18.6" font-weight="bold" textLength="56.6" lengthAdjust="spacingAndGlyphs" text-anchor="middle">83/337</text>
<text x="118.6" y="2048.7" font-size="18.6" font-weight="bold" textLength="46.6" lengthAdjust="spacingAndGlyphs" text-anchor="middle">12/27</text>
<text x="208.6" y="2048.7" font-size="18.6" font-weight="bold" textLength="46.6" lengthAdjust="spacingAndGlyphs" text-anchor="middle">10/26</text>
<text x="298.1" y="2048.7" font-size="18.6" font-weight="bold" textLength="46.6" lengthAdjust="spacingAndGlyphs" text-anchor="middle">12/57</text>
<text x="384.1" y="2048.7" font-size="18.6" font-weight="bold" textLength="56.6" lengthAdjust="spacingAndGlyphs" text-anchor="middle">33/102</text>
<text x="113.1" y="2083.2" font-size="18.6" font-weight="bold" textLength="36.6" lengthAdjust="spacingAndGlyphs" text-anchor="middle">5/23</text>
<text x="203.1" y="2083.2" font-size="18.6" font-weight="bold" textLength="36.6" lengthAdjust="spacingAndGlyphs" text-anchor="middle">8/23</text>
<text x="292.6" y="2083.2" font-size="18.6" font-weight="bold" textLength="46.6" lengthAdjust="spacingAndGlyphs" text-anchor="middle">13/54</text>
<text x="382.6" y="2083.2" font-size="18.6" font-weight="bold" textLength="46.6" lengthAdjust="spacingAndGlyphs" text-anchor="middle">10/56</text>
<text x="23.6" y="2019.3" font-size="28" font-weight="bold" fill="#B01E23" textLength="41.0" lengthAdjust="spacingAndGlyphs">M2</text>
<text x="19.4" y="2060.8" font-size="28" font-weight="bold" fill="#B01E23" textLength="40.0" lengthAdjust="spacingAndGlyphs">M1</text>
<text x="4.8" y="2097.6" font-size="28" font-weight="bold" fill="#B01E23" textLength="58.0" lengthAdjust="spacingAndGlyphs">M11</text>
<text x="74.7" y="2124.3" font-size="19.5" font-weight="bold" textLength="59.9" lengthAdjust="spacingAndGlyphs">PBMC</text>
<text x="175.3" y="2125.5" font-size="19.5" font-weight="bold" textLength="55.0" lengthAdjust="spacingAndGlyphs">NEUT</text>
<text x="260.2" y="2124.3" font-size="19.5" font-weight="bold" textLength="73.2" lengthAdjust="spacingAndGlyphs">NEUT%</text>
<text x="353.3" y="2124.3" font-size="19.5" font-weight="bold" textLength="85.2" lengthAdjust="spacingAndGlyphs">LYMPH%</text>
<text x="81.9" y="2207.0" font-size="22.5" font-weight="bold" textLength="301.1" lengthAdjust="spacingAndGlyphs">PBMC eGene Overlap Ratio</text>
<rect x="49.0" y="2216.2" width="100.8" height="52.1" fill="#5C9DC0" />
<rect x="149.8" y="2216.2" width="101.4" height="52.1" fill="#5A8DBC" />
<rect x="251.2" y="2216.2" width="100.2" height="52.1" fill="#5A8DBC" />
<rect x="351.4" y="2216.2" width="101.7" height="52.1" fill="#5A8DBC" />
<line x1="49.0" y1="2214.6" x2="49.0" y2="2269.9" stroke="#939393" stroke-width="3.2" />
<line x1="149.8" y1="2214.6" x2="149.8" y2="2269.9" stroke="#939393" stroke-width="3.2" />
<line x1="251.2" y1="2214.6" x2="251.2" y2="2269.9" stroke="#939393" stroke-width="3.2" />
<line x1="351.4" y1="2214.6" x2="351.4" y2="2269.9" stroke="#939393" stroke-width="3.2" />
<line x1="453.1" y1="2214.6" x2="453.1" y2="2269.9" stroke="#939393" stroke-width="3.2" />
<line x1="47.4" y1="2216.2" x2="454.7" y2="2216.2" stroke="#939393" stroke-width="3.2" />
<line x1="47.4" y1="2268.3" x2="454.7" y2="2268.3" stroke="#939393" stroke-width="3.2" />
<text x="100.4" y="2248.7" font-size="18.6" font-weight="bold" textLength="66.6" lengthAdjust="spacingAndGlyphs" text-anchor="middle">101/254</text>
<text x="201.0" y="2248.7" font-size="18.6" font-weight="bold" textLength="66.6" lengthAdjust="spacingAndGlyphs" text-anchor="middle">106/256</text>
<text x="307.3" y="2248.7" font-size="18.6" font-weight="bold" textLength="66.6" lengthAdjust="spacingAndGlyphs" text-anchor="middle">147/365</text>
<text x="401.2" y="2248.7" font-size="18.6" font-weight="bold" textLength="56.6" lengthAdjust="spacingAndGlyphs" text-anchor="middle">57/144</text>
<text x="5.0" y="2251.6" font-size="28" font-weight="bold" fill="#B01E23" textLength="41.5" lengthAdjust="spacingAndGlyphs">M3</text>
<text x="71.6" y="2290.8" font-size="19.5" font-weight="bold" textLength="59.3" lengthAdjust="spacingAndGlyphs">PBMC</text>
<text x="171.8" y="2291.9" font-size="19.5" font-weight="bold" textLength="55.0" lengthAdjust="spacingAndGlyphs">NEUT</text>
<text x="257.4" y="2290.8" font-size="19.5" font-weight="bold" textLength="72.5" lengthAdjust="spacingAndGlyphs">NEUT%</text>
<text x="349.8" y="2290.8" font-size="19.5" font-weight="bold" textLength="85.2" lengthAdjust="spacingAndGlyphs">LYMPH%</text>
<text x="115.0" y="2347.2" font-size="22.5" font-weight="bold" textLength="291.9" lengthAdjust="spacingAndGlyphs">Neu eGene Overlap Ratio</text>
<rect x="61.3" y="2357.6" width="99.4" height="38.0" fill="#DB6E7A" />
<rect x="160.7" y="2357.6" width="95.1" height="38.0" fill="#F3D5DA" />
<rect x="255.8" y="2357.6" width="98.5" height="38.0" fill="#E2A8B0" />
<rect x="354.3" y="2357.6" width="99.9" height="38.0" fill="#E2A8B0" />
<line x1="61.3" y1="2356.0" x2="61.3" y2="2397.2" stroke="#939393" stroke-width="3.2" />
<line x1="160.7" y1="2356.0" x2="160.7" y2="2397.2" stroke="#939393" stroke-width="3.2" />
<line x1="255.8" y1="2356.0" x2="255.8" y2="2397.2" stroke="#939393" stroke-width="3.2" />
<line x1="354.3" y1="2356.0" x2="354.3" y2="2397.2" stroke="#939393" stroke-width="3.2" />
<line x1="454.2" y1="2356.0" x2="454.2" y2="2397.2" stroke="#939393" stroke-width="3.2" />
<line x1="59.7" y1="2357.6" x2="455.8" y2="2357.6" stroke="#939393" stroke-width="3.2" />
<line x1="59.7" y1="2395.6" x2="455.8" y2="2395.6" stroke="#939393" stroke-width="3.2" />
<text x="112.6" y="2387.6" font-size="18.6" font-weight="bold" textLength="56.6" lengthAdjust="spacingAndGlyphs" text-anchor="middle">89/198</text>
<text x="218.2" y="2384.7" font-size="18.6" font-weight="bold" textLength="56.6" lengthAdjust="spacingAndGlyphs" text-anchor="middle">20/105</text>
<text x="306.8" y="2385.5" font-size="18.6" font-weight="bold" textLength="56.6" lengthAdjust="spacingAndGlyphs" text-anchor="middle">46/156</text>
<text x="402.2" y="2385.5" font-size="18.6" font-weight="bold" textLength="66.6" lengthAdjust="spacingAndGlyphs" text-anchor="middle">112/279</text>
<text x="0.5" y="2392.7" font-size="28" font-weight="bold" fill="#B01E23" textLength="61.0" lengthAdjust="spacingAndGlyphs">M10</text>
<text x="77.6" y="2418.1" font-size="19.5" font-weight="bold" textLength="62.8" lengthAdjust="spacingAndGlyphs">PBMC</text>
<text x="184.8" y="2419.2" font-size="19.5" font-weight="bold" textLength="57.3" lengthAdjust="spacingAndGlyphs">NEUT</text>
<text x="278.4" y="2418.1" font-size="19.5" font-weight="bold" textLength="76.0" lengthAdjust="spacingAndGlyphs">NEUT%</text>
<text x="372.0" y="2418.1" font-size="19.5" font-weight="bold" textLength="89.5" lengthAdjust="spacingAndGlyphs">LYMPH%</text>
<line x1="444.2" y1="1801.2" x2="563.4" y2="1871.4" stroke="#757AD0" stroke-width="3.6" stroke-dasharray="14 11"/>
<line x1="432.1" y1="2064.6" x2="575.5" y2="1994.8" stroke="#757AD0" stroke-width="3.6" stroke-dasharray="14 11"/>
<line x1="468.4" y1="2193.4" x2="591.1" y2="2257.4" stroke="#8B2A1A" stroke-width="3.6" stroke-dasharray="14 11"/>
<line x1="473.6" y1="2412.9" x2="585.9" y2="2331.7" stroke="#8B2A1A" stroke-width="3.6" stroke-dasharray="14 11"/>
<ellipse cx="901.6" cy="2030.5" rx="177.0" ry="171.8" fill="#E4F0FB" />
<ellipse cx="1405.0" cy="2017.0" rx="172.5" ry="169.0" fill="#F2D6DA" />
<text x="574.1" y="1865.6" font-size="29.2" fill="#757AD0" textLength="195.1" lengthAdjust="spacingAndGlyphs">cyto_cis eQTL</text>
<text x="555.7" y="2193.4" font-size="31" fill="#8B2A1A" textLength="223.8" lengthAdjust="spacingAndGlyphs">cyto_trans eQTL</text>
<rect x="592.2" y="1881.4" width="99.9" height="120.6" fill="#fff" stroke="#000" stroke-width="4.5"/>
<rect x="601.6" y="1952.1" width="20.4" height="34.3" fill="#000" />
<line x1="611.2" y1="1946.5" x2="611.2" y2="1990.8" stroke="#000" stroke-width="4" />
<rect x="630.2" y="1932.7" width="20.4" height="34.3" fill="#000" />
<line x1="639.2" y1="1927.1" x2="639.2" y2="1971.5" stroke="#000" stroke-width="4" />
<rect x="661.6" y="1912.9" width="20.4" height="34.3" fill="#000" />
<line x1="671.0" y1="1906.9" x2="671.0" y2="1951.3" stroke="#000" stroke-width="4" />
<rect x="630.3" y="2205.0" width="99.9" height="120.6" fill="#fff" stroke="#000" stroke-width="4.5"/>
<rect x="639.7" y="2275.7" width="20.4" height="34.3" fill="#000" />
<line x1="649.3" y1="2270.1" x2="649.3" y2="2314.4" stroke="#000" stroke-width="4" />
<rect x="668.3" y="2256.3" width="20.4" height="34.3" fill="#000" />
<line x1="677.3" y1="2250.7" x2="677.3" y2="2295.1" stroke="#000" stroke-width="4" />
<rect x="699.7" y="2236.5" width="20.4" height="34.3" fill="#000" />
<line x1="709.1" y1="2230.5" x2="709.1" y2="2274.9" stroke="#000" stroke-width="4" />
<text x="582.4" y="1972.8" font-size="26" textLength="82.1" lengthAdjust="spacingAndGlyphs" transform="rotate(-90 582.4 1972.8)">geneB</text>
<text x="620.9" y="2316.1" font-size="26.5" textLength="83.8" lengthAdjust="spacingAndGlyphs" transform="rotate(-90 620.9 2316.1)">geneA</text>
<text x="591.7" y="2019.4" font-size="18.2" textLength="28.9" lengthAdjust="spacingAndGlyphs">0/0</text>
<text x="633.2" y="2019.4" font-size="18.2" textLength="26.5" lengthAdjust="spacingAndGlyphs">0/1</text>
<text x="668.5" y="2019.4" font-size="18.2" textLength="26.1" lengthAdjust="spacingAndGlyphs">1/1</text>
<text x="630.3" y="2343.4" font-size="18.2" textLength="28.5" lengthAdjust="spacingAndGlyphs">0/0</text>
<text x="672.1" y="2343.4" font-size="18.2" textLength="26.5" lengthAdjust="spacingAndGlyphs">0/1</text>
<text x="707.4" y="2343.4" font-size="18.2" textLength="25.8" lengthAdjust="spacingAndGlyphs">1/1</text>
<text x="845.0" y="1804.7" font-size="35" font-weight="bold" fill="#5F9DB5" textLength="102.6" lengthAdjust="spacingAndGlyphs">PBMC</text>
<path d="M850.1 1836.2Q849.1 1825.1 855.0 1815.6" fill="none" stroke="#8E8CCB" stroke-width="1.8" stroke-linecap="round"/>
<path d="M850.1 1836.2Q859.1 1831.7 863.6 1822.7" fill="none" stroke="#8E8CCB" stroke-width="1.8" stroke-linecap="round"/>
<path d="M850.1 1836.2Q859.2 1840.6 869.1 1838.7" fill="none" stroke="#8E8CCB" stroke-width="1.8" stroke-linecap="round"/>
<path d="M850.1 1836.2Q857.7 1837.8 862.8 1843.6" fill="none" stroke="#8E8CCB" stroke-width="1.8" stroke-linecap="round"/>
<path d="M850.1 1836.2Q849.7 1846.0 855.3 1854.1" fill="none" stroke="#8E8CCB" stroke-width="1.8" stroke-linecap="round"/>
<path d="M850.1 1836.2Q845.4 1845.7 835.9 1850.4" fill="none" stroke="#8E8CCB" stroke-width="1.8" stroke-linecap="round"/>
<path d="M850.1 1836.2Q839.1 1836.3 830.3 1842.9" fill="none" stroke="#8E8CCB" stroke-width="1.8" stroke-linecap="round"/>
<path d="M850.1 1836.2Q839.1 1835.7 830.6 1828.7" fill="none" stroke="#8E8CCB" stroke-width="1.8" stroke-linecap="round"/>
<path d="M850.1 1836.2Q845.8 1828.1 837.4 1824.2" fill="none" stroke="#8E8CCB" stroke-width="1.8" stroke-linecap="round"/>
<path d="M840.1 1833.2q2 -8 10 -9q9 0 11 8q1 9 -8 12q-8 2 -12 -3q-3 -4 -1 -8z" fill="#9694CE"/>
<ellipse cx="850.7" cy="1837.2" rx="5.6" ry="4.4" fill="#68659C" transform="rotate(-22 850.7 1837.2)"/>
<polygon points="917.9,1834.7 916.2,1837.9 916.5,1841.6 913.7,1843.9 912.7,1847.4 909.2,1848.4 906.9,1851.2 903.2,1850.9 900.0,1852.6 896.8,1850.9 893.1,1851.2 890.8,1848.4 887.3,1847.4 886.3,1843.9 883.5,1841.6 883.8,1837.9 882.1,1834.7 883.8,1831.5 883.5,1827.8 886.3,1825.5 887.3,1822.0 890.8,1821.0 893.1,1818.2 896.8,1818.5 900.0,1816.8 903.2,1818.5 906.9,1818.2 909.2,1821.0 912.7,1822.0 913.7,1825.5 916.5,1827.8 916.2,1831.5" fill="#F2B3C3" stroke="#EE9DB3" stroke-width="1.2" stroke-linejoin="round"/>
<path d="M890.5 1841.5q-2.5 -6 3.5 -8.5q5 -1 7 -5q4.5 -4.5 9.5 -1q4 5 -0.5 11q-5.5 6.5 -13 7q-5 0.5 -6.5 -3.5z" fill="#E35D86"/>
<polygon points="971.1,1835.9 965.2,1837.8 969.2,1842.6 963.0,1842.4 965.2,1848.2 959.4,1845.9 959.4,1852.1 954.8,1848.0 952.7,1853.8 949.8,1848.3 945.8,1853.2 944.9,1847.0 939.5,1850.1 940.8,1844.0 934.7,1845.2 938.0,1839.9 931.8,1838.8 936.7,1835.0 931.3,1831.9 937.2,1830.0 933.2,1825.2 939.4,1825.4 937.2,1819.6 943.0,1821.9 943.0,1815.7 947.6,1819.8 949.7,1814.0 952.6,1819.5 956.6,1814.6 957.5,1820.8 962.9,1817.7 961.6,1823.8 967.7,1822.6 964.4,1827.9 970.6,1829.0 965.7,1832.8" fill="#F4C083" stroke="#E5A352" stroke-width="1.3" stroke-linejoin="round"/>
<ellipse cx="951.6" cy="1834.9" rx="7.2" ry="6.6" fill="#DB8C45" />
<text x="1392.0" y="1792.6" font-size="34" font-weight="bold" fill="#C45A5A" textLength="65.5" lengthAdjust="spacingAndGlyphs">Neu</text>
<circle cx="1415.1" cy="1824.2" r="18.3" fill="#EDB2B5" stroke="#DB9096" stroke-width="1.5"/>
<path d="M1405 1819q0 -6 6 -6q4 1 3 5q-1 3 2 4q3 3 7 0q4 1 2 6q-3 5 -9 4q-4 -1 -5 -4q-4 0 -5 -4q-1 -3 -1 -5z" fill="#C9596A"/>
<line x1="767.7" y1="1973.2" x2="809.8" y2="1973.2" stroke="#000" stroke-width="5.2" />
<line x1="893.1" y1="1973.2" x2="916.4" y2="1973.2" stroke="#000" stroke-width="5.2" />
<rect x="809.8" y="1952.7" width="83.3" height="41.8" fill="none" stroke="#000" stroke-width="5"/>
<line x1="825.6" y1="1952.7" x2="825.6" y2="1994.5" stroke="#000" stroke-width="4.8" />
<path d="M789.4 1973.2V1932.8H810.4" fill="none" stroke="#000" stroke-width="4.6"/>
<path d="M804.8 1926.2L811.4 1932.8L804.8 1939.4" fill="none" stroke="#000" stroke-width="5" stroke-linejoin="miter" stroke-linecap="butt"/>
<text x="825.1" y="2020.2" font-size="20" font-weight="bold" textLength="62.7" lengthAdjust="spacingAndGlyphs">geneB</text>
<line x1="880.4" y1="2123.9" x2="919.8" y2="2123.9" stroke="#000" stroke-width="5.2" />
<line x1="1001.0" y1="2123.9" x2="1024.4" y2="2123.9" stroke="#000" stroke-width="5.2" />
<rect x="919.8" y="2097.1" width="81.2" height="41.1" fill="none" stroke="#000" stroke-width="5"/>
<line x1="988.8" y1="2097.1" x2="988.8" y2="2138.2" stroke="#000" stroke-width="4.8" />
<path d="M891.2 2123.9V2088.0H910.8" fill="none" stroke="#000" stroke-width="4.6"/>
<path d="M905.2 2081.4L911.8 2088.0L905.2 2094.6" fill="none" stroke="#000" stroke-width="5" stroke-linejoin="miter" stroke-linecap="butt"/>
<text x="922.9" y="2169.2" font-size="20" font-weight="bold" textLength="61.9" lengthAdjust="spacingAndGlyphs">geneA</text>
<line x1="1278.1" y1="1984.8" x2="1315.0" y2="1984.8" stroke="#000" stroke-width="5.2" />
<line x1="1395.5" y1="1984.8" x2="1418.1" y2="1984.8" stroke="#000" stroke-width="5.2" />
<rect x="1315.0" y="1964.2" width="80.5" height="41.2" fill="none" stroke="#000" stroke-width="5"/>
<line x1="1330.6" y1="1964.2" x2="1330.6" y2="2005.4" stroke="#000" stroke-width="4.8" />
<path d="M1295.7 1984.8V1948.5H1316.1" fill="none" stroke="#000" stroke-width="4.6"/>
<path d="M1310.5 1941.9L1317.1 1948.5L1310.5 1955.1" fill="none" stroke="#000" stroke-width="5" stroke-linejoin="miter" stroke-linecap="butt"/>
<text x="1329.5" y="2030.8" font-size="20" font-weight="bold" textLength="61.1" lengthAdjust="spacingAndGlyphs">geneB</text>
<line x1="1397.0" y1="2090.6" x2="1434.0" y2="2090.6" stroke="#000" stroke-width="5.2" />
<line x1="1513.0" y1="2090.6" x2="1535.3" y2="2090.6" stroke="#000" stroke-width="5.2" />
<rect x="1434.0" y="2064.1" width="79.0" height="40.5" fill="none" stroke="#000" stroke-width="5"/>
<line x1="1498.9" y1="2064.1" x2="1498.9" y2="2104.6" stroke="#000" stroke-width="4.8" />
<path d="M1406.9 2090.6V2054.8H1426.0" fill="none" stroke="#000" stroke-width="4.6"/>
<path d="M1420.4 2048.2L1427.0 2054.8L1420.4 2061.4" fill="none" stroke="#000" stroke-width="5" stroke-linejoin="miter" stroke-linecap="butt"/>
<text x="1437.5" y="2135.0" font-size="20" font-weight="bold" textLength="59.7" lengthAdjust="spacingAndGlyphs">geneA</text>
<path d="M1400 2064.2L1416.8 2077.4M1400 2077.4L1416.8 2064.2" stroke="#D2232A" stroke-width="4.2" fill="none"/>
<rect x="1117.6" y="1846.6" width="102.4" height="125.4" fill="#fff" stroke="#000" stroke-width="4.1"/>
<line x1="1125.6" y1="1957.0" x2="1207.0" y2="1885.5" stroke="#000" stroke-width="3.9" />
<ellipse cx="1179.7" cy="1894.3" rx="3.9" ry="4.1" fill="#000" />
<ellipse cx="1168.1" cy="1906.7" rx="3.9" ry="4.1" fill="#000" />
<ellipse cx="1183.7" cy="1915.5" rx="3.9" ry="4.1" fill="#000" />
<ellipse cx="1152.9" cy="1923.6" rx="3.9" ry="4.1" fill="#000" />
<ellipse cx="1197.2" cy="1925.9" rx="3.9" ry="4.1" fill="#000" />
<ellipse cx="1175.9" cy="1932.1" rx="3.9" ry="4.1" fill="#000" />
<ellipse cx="1160.6" cy="1936.3" rx="3.9" ry="4.1" fill="#000" />
<rect x="1122.0" y="2038.0" width="102.4" height="124.6" fill="#fff" stroke="#000" stroke-width="4.1"/>
<line x1="1125.2" y1="2143.3" x2="1216.1" y2="2070.7" stroke="#000" stroke-width="3.9" />
<ellipse cx="1185.0" cy="2079.0" rx="3.9" ry="4.1" fill="#000" />
<ellipse cx="1172.5" cy="2092.2" rx="3.9" ry="4.1" fill="#000" />
<ellipse cx="1189.8" cy="2100.8" rx="3.9" ry="4.1" fill="#000" />
<ellipse cx="1155.2" cy="2109.1" rx="3.9" ry="4.1" fill="#000" />
<ellipse cx="1204.3" cy="2111.9" rx="3.9" ry="4.1" fill="#000" />
<ellipse cx="1181.2" cy="2118.1" rx="3.9" ry="4.1" fill="#000" />
<ellipse cx="1163.9" cy="2122.2" rx="3.9" ry="4.1" fill="#000" />
<text x="1110.6" y="1951.5" font-size="24" textLength="74.0" lengthAdjust="spacingAndGlyphs" transform="rotate(-90 1110.6 1951.5)">geneB</text>
<text x="1110.8" y="2126.0" font-size="24" textLength="75.5" lengthAdjust="spacingAndGlyphs" transform="rotate(-90 1110.8 2126.0)">geneA</text>
<text x="1126.6" y="1997.5" font-size="24.6" textLength="93.1" lengthAdjust="spacingAndGlyphs">PBMC%</text>
<text x="1141.2" y="2195.2" font-size="24.6" textLength="73.7" lengthAdjust="spacingAndGlyphs">Neu%</text>
<text x="1078.7" y="1834.7" font-size="30" fill="#757AD0" textLength="201.4" lengthAdjust="spacingAndGlyphs">cyto_cis genes</text>
<text x="1033.8" y="2274.7" font-size="30" fill="#8B2A1A" textLength="231.4" lengthAdjust="spacingAndGlyphs">cyto_trans genes</text>
<path d="M719 1880 Q775 1880 806 1901" fill="none" stroke="#757AD0" stroke-width="3.6" stroke-dasharray="9 10"/>
<path d="M787.2 1911 L817.9 1889.3 L822.4 1928.3 L805.1 1904.3 Z" fill="#7E82D3"/>
<path d="M933.2 1952.2 C960 1924 1000 1882 1049 1817 Q1056 1808 1056 1822 L1056 1850" fill="none" stroke="#757AD0" stroke-width="3.6" stroke-dasharray="11 9.5"/>
<path d="M1036.5 1853.8 L1054.8 1863 L1074.5 1855 L1054.2 1888.4 Z" fill="#7E82D3"/>
<path d="M750.8 2262.3 Q803 2272 840 2227" fill="none" stroke="#8B2A1A" stroke-width="3.6" stroke-dasharray="12 10"/>
<path d="M823.6 2219 L857.1 2199.6 L856.8 2238.3 L842.9 2224.5 Z" fill="#8B2A1A"/>
<path d="M1049 2176.8 C1075 2186 1100 2203 1111 2222 C1116 2236 1120 2242 1135 2238.5 L1280 2185.5" fill="none" stroke="#8B2A1A" stroke-width="3.6" stroke-dasharray="13 10"/>
<path d="M1271.1 2169 L1309.6 2175.1 L1284 2204.4 L1283.2 2183.7 Z" fill="#8B2A1A"/>
<line x1="1566.2" y1="1886.5" x2="1710.3" y2="1816.5" stroke="#757AD0" stroke-width="3.6" stroke-dasharray="14 11"/>
<line x1="1583.5" y1="1969.1" x2="1726.1" y2="2041.1" stroke="#757AD0" stroke-width="3.6" stroke-dasharray="14 11"/>
<line x1="1528.8" y1="2286.2" x2="1672.0" y2="2214.7" stroke="#8B2A1A" stroke-width="3.6" stroke-dasharray="14 11"/>
<line x1="1528.8" y1="2351.0" x2="1672.0" y2="2423.8" stroke="#8B2A1A" stroke-width="3.6" stroke-dasharray="14 11"/>
<path d="M1826.8 1788.0A131 127.5 0 0 1 1957.8 1912.3L1913.3 1913.4A86.5 84.5 0 0 0 1826.8 1831.0Z" fill="#000"/>
<path d="M1957.8 1912.3A131 127.5 0 0 1 1948.9 1961.7L1907.4 1946.1A86.5 84.5 0 0 0 1913.3 1913.4Z" fill="#3C7EB9"/>
<path d="M1948.9 1961.7A131 127.5 0 1 1 1826.8 1788.0L1826.8 1831.0A86.5 84.5 0 1 0 1907.4 1946.1Z" fill="#B4B5B4"/>
<path d="M1826.8 1836.5A81 79 0 0 1 1907.8 1916.0L1864.3 1915.7A37.5 36.5 0 0 0 1826.8 1879.0Z" fill="#000"/>
<path d="M1907.8 1916.0A81 79 0 0 1 1903.0 1942.3L1862.1 1927.9A37.5 36.5 0 0 0 1864.3 1915.7Z" fill="#3C7EB9"/>
<path d="M1903.0 1942.3A81 79 0 1 1 1826.8 1836.5L1826.8 1879.0A37.5 36.5 0 1 0 1862.1 1927.9Z" fill="#B4B5B4"/>
<path d="M1822.0 2193.8A131 127.5 0 0 1 1945.8 2363.0L1903.7 2348.9A86.5 84.5 0 0 0 1822.0 2236.8Z" fill="#3C7EB9"/>
<path d="M1945.8 2363.0A131 127.5 0 0 1 1885.8 2432.7L1864.1 2395.1A86.5 84.5 0 0 0 1903.7 2348.9Z" fill="#000"/>
<path d="M1885.8 2432.7A131 127.5 0 1 1 1822.0 2193.8L1822.0 2236.8A86.5 84.5 0 1 0 1864.1 2395.1Z" fill="#B4B5B4"/>
<path d="M1822.0 2242.3A81 79 0 0 1 1902.2 2332.2L1865.1 2327.1A43.5 42.5 0 0 0 1822.0 2278.8Z" fill="#3C7EB9"/>
<path d="M1902.2 2332.2A81 79 0 0 1 1884.4 2371.7L1855.5 2348.4A43.5 42.5 0 0 0 1865.1 2327.1Z" fill="#000"/>
<path d="M1884.4 2371.7A81 79 0 1 1 1822.0 2242.3L1822.0 2278.8A43.5 42.5 0 1 0 1855.5 2348.4Z" fill="#B4B5B4"/>
<text x="1618.3" y="1780.5" font-size="24.5" font-weight="bold" textLength="379.4" lengthAdjust="spacingAndGlyphs">Percentage of cyto-cis/trans gene</text>
<text x="1609.7" y="2188.2" font-size="24.5" font-weight="bold" textLength="379.4" lengthAdjust="spacingAndGlyphs">Percentage of cyto-cis/trans gene</text>
<text x="1844.2" y="1838.1" font-size="27" font-weight="bold" fill="#D6282F" textLength="83.0" lengthAdjust="spacingAndGlyphs">24.6%</text>
<text x="1834.2" y="1884.7" font-size="27" font-weight="bold" fill="#D6282F" textLength="83.9" lengthAdjust="spacingAndGlyphs">25.1%</text>
<text x="1850.7" y="1934.6" font-size="27" font-weight="bold" fill="#D6282F" textLength="67.4" lengthAdjust="spacingAndGlyphs">5.4%</text>
<text x="1921.5" y="1943.2" font-size="27" font-weight="bold" fill="#D6282F" textLength="67.7" lengthAdjust="spacingAndGlyphs">6.3%</text>
<text x="1848.6" y="2240.1" font-size="27" font-weight="bold" fill="#D6282F" textLength="84.4" lengthAdjust="spacingAndGlyphs">30.3%</text>
<text x="1826.2" y="2289.1" font-size="27" font-weight="bold" fill="#D6282F" textLength="83.8" lengthAdjust="spacingAndGlyphs">27.2%</text>
<text x="1835.7" y="2343.8" font-size="27" font-weight="bold" fill="#D6282F" textLength="68.5" lengthAdjust="spacingAndGlyphs">8.8%</text>
<text x="1871.1" y="2388.4" font-size="27" font-weight="bold" fill="#D6282F" textLength="57.6" lengthAdjust="spacingAndGlyphs">11.6</text>
<text x="1708.6" y="1878.4" font-size="17" font-weight="bold" textLength="34.5" lengthAdjust="spacingAndGlyphs">Neu</text>
<text x="1749.8" y="1893.4" font-size="17" font-weight="bold" textLength="54.7" lengthAdjust="spacingAndGlyphs">PBMC</text>
<text x="1707.4" y="2282.7" font-size="17" font-weight="bold" textLength="35.1" lengthAdjust="spacingAndGlyphs">Neu</text>
<text x="1740.6" y="2306.3" font-size="17" font-weight="bold" textLength="54.4" lengthAdjust="spacingAndGlyphs">PBMC</text>
<text x="1799.2" y="1978.3" font-size="17" font-weight="bold" textLength="63.3" lengthAdjust="spacingAndGlyphs">(n=147)</text>
<text x="1799.2" y="2029.6" font-size="17" font-weight="bold" textLength="65.6" lengthAdjust="spacingAndGlyphs">(n=126)</text>
<text x="1798.7" y="2384.1" font-size="17" font-weight="bold" textLength="62.8" lengthAdjust="spacingAndGlyphs">(n=147)</text>
<text x="1798.7" y="2435.1" font-size="17" font-weight="bold" textLength="62.8" lengthAdjust="spacingAndGlyphs">(n=112)</text>
<rect x="1684.3" y="2078.7" width="22.2" height="21.6" fill="#000" />
<text x="1714.8" y="2093.8" font-size="23" font-weight="bold" textLength="102.8" lengthAdjust="spacingAndGlyphs">cyto_cis</text>
<rect x="1834.1" y="2077.9" width="22.2" height="21.6" fill="#3C7EB9" />
<text x="1860.3" y="2096.0" font-size="23" font-weight="bold" textLength="130.1" lengthAdjust="spacingAndGlyphs">cyto_trans</text>
<rect x="1684.3" y="2109.9" width="22.2" height="21.6" fill="#B4B5B4" />
<text x="1714.8" y="2128.6" font-size="23" font-weight="bold" textLength="187.2" lengthAdjust="spacingAndGlyphs">not_associated</text>
</g>
</svg>
</body></html>
